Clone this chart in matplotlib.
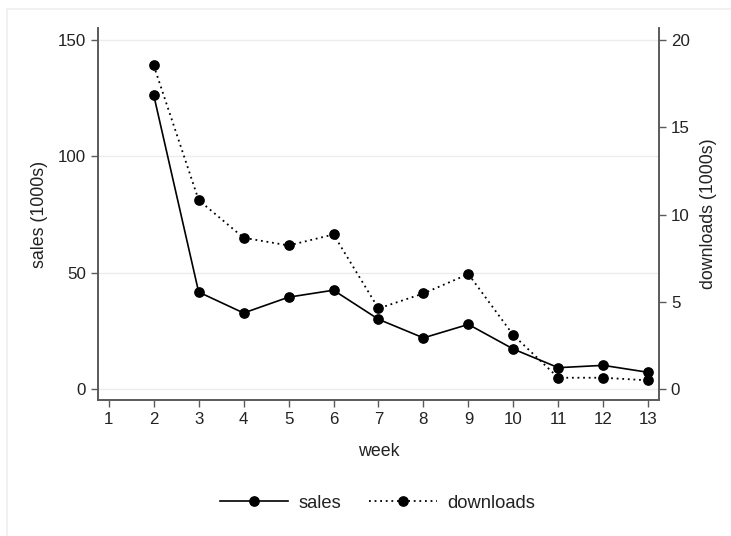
import matplotlib
matplotlib.use('Agg')
import matplotlib.pyplot as plt
from matplotlib.patches import Rectangle
from matplotlib.lines import Line2D

plt.rcParams['font.family'] = ['Liberation Sans', 'DejaVu Sans']

# weekly data (week 1 has no observation)
weeks = [2, 3, 4, 5, 6, 7, 8, 9, 10, 11, 12, 13]
sales = [126.4, 41.7, 32.7, 39.5, 42.5, 30.0, 22.0, 27.8, 17.2, 9.2, 10.2, 7.2]      # 1000s
downloads = [18.55, 10.83, 8.67, 8.23, 8.86, 4.62, 5.48, 6.59, 3.09, 0.65, 0.65, 0.50]  # 1000s
week_ticks = list(range(1, 14))
sales_ticks = [0, 50, 100, 150]
dl_ticks = [0, 5, 10, 15, 20]

axis_col = '#5a5a5a'
txt_col = '#222222'
fs_tick = 12.2
fs_title = 12.8
dots = (0, (1.0, 2.1))

fig = plt.figure(figsize=(7.31, 5.36), dpi=100)
# faint outer frame
fig.patches.append(Rectangle((7 / 731, -0.05), 1.2, 1 - 9 / 536 + 0.05,
                             transform=fig.transFigure, fill=False,
                             edgecolor='#efefef', linewidth=1.2))

ax = fig.add_axes([0.134, 0.2537, 0.7675, 0.6941])
ax2 = ax.twinx()

ax.set_xlim(0.76, 13.24)
ax.set_ylim(-4.7, 155.2)
ax2.set_ylim(-4.7 / 7.5, 155.2 / 7.5)

ax.grid(axis='y', color='#ececec', linewidth=1.0)
ax.set_axisbelow(True)

ax.plot(weeks, sales, color='black', linewidth=1.2, marker='o',
        markersize=6.7, label='sales')
ax2.plot(weeks, downloads, color='black', linewidth=1.3, linestyle=dots,
         marker='o', markersize=6.7, label='downloads')

ax.set_xticks(week_ticks)
ax.set_yticks(sales_ticks)
ax2.set_yticks(dl_ticks)

for a in (ax, ax2):
    a.spines['top'].set_visible(False)
    for s in ('left', 'right', 'bottom'):
        a.spines[s].set_color(axis_col)
        a.spines[s].set_linewidth(1.2)
    a.tick_params(direction='out', length=5, width=1.0, color=axis_col,
                  labelsize=fs_tick, labelcolor=txt_col, pad=3.5)

ax.set_xlabel('week', fontsize=fs_title, color=txt_col, labelpad=12)
ax.set_ylabel('sales (1000s)', fontsize=fs_title, color=txt_col, labelpad=7)
ax2.set_ylabel('downloads (1000s)', fontsize=fs_title, color=txt_col, labelpad=7.5)

handles = [Line2D([], [], color='black', linewidth=1.2, marker='o', markersize=6.7),
           Line2D([], [], color='black', linewidth=1.3, linestyle=dots, marker='o',
                  markersize=6.7)]
leg = fig.legend(handles, ['sales', 'downloads'], loc='center',
                 bbox_to_anchor=(0.5165, 0.061), ncol=2, frameon=False,
                 fontsize=13.2, handlelength=3.75, columnspacing=1.5,
                 handletextpad=0.55, numpoints=1)
for t in leg.get_texts():
    t.set_color(txt_col)

fig.savefig('out.png', dpi=100, facecolor='white')
